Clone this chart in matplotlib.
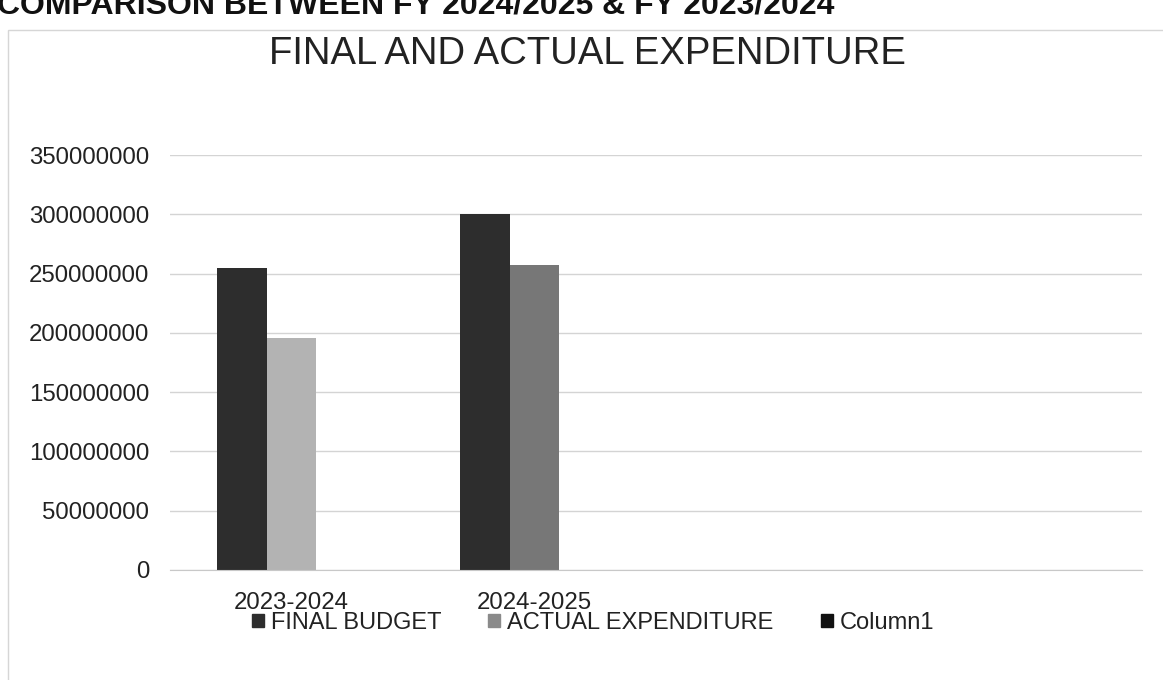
import numpy as np
import matplotlib
matplotlib.use("Agg")
import matplotlib.pyplot as plt
from matplotlib.patches import Rectangle, Patch

plt.rcParams['font.family'] = ['Liberation Sans', 'DejaVu Sans']

years = ["2023-2024", "2024-2025"]
final_budget = [255000000, 300000000]
actual_exp = [196000000, 257000000]
column1 = [0, 0]
series_names = ["FINAL BUDGET", "ACTUAL EXPENDITURE", "Column1"]

fig = plt.figure(figsize=(11.63, 6.80), dpi=100)
fig.patch.set_facecolor("white")

# thin frame of the chart object
fig.patches.append(Rectangle((8 / 1163, -0.01), 1.2, 1 - 30 / 680 + 0.01,
                             transform=fig.transFigure, fill=False,
                             edgecolor="#d6d6d6", lw=1))

# page heading, running off the top edge of the page
fig.text(-0.003, 1 - 13 / 680, "COMPARISON BETWEEN FY 2024/2025 & FY 2023/2024",
         ha="left", va="baseline", fontsize=23, fontweight="bold", color="#111111")

ax = fig.add_axes([170 / 1163, 110 / 680, 972 / 1163, 415 / 680])

x = np.arange(len(years))
w = 0.205
ax.bar(x - w, final_budget, w, color="#2d2d2d", label=series_names[0])
ax.bar(x, actual_exp, w, color=["#b3b3b3", "#777777"], label=series_names[1])
ax.bar(x + w, column1, w, color="#111111", label=series_names[2])

ax.set_xlim(-0.5, 3.5)
ax.set_ylim(0, 350000000)
ax.set_yticks(np.arange(0, 350000001, 50000000))
ax.set_yticklabels([str(v) for v in range(0, 350000001, 50000000)])
ax.set_xticks(x)
ax.set_xticklabels(years)
ax.tick_params(axis="both", length=0, labelsize=17.3, labelcolor="#222222")
ax.tick_params(axis="y", pad=15)
ax.tick_params(axis="x", pad=16)

ax.grid(axis="y", color="#d4d4d4", lw=1)
ax.set_axisbelow(True)
for s in ["top", "right", "left"]:
    ax.spines[s].set_visible(False)
ax.spines["bottom"].set_color("#c8c8c8")

fig.text(0.505, 1 - 54 / 680, "FINAL AND ACTUAL EXPENDITURE", ha="center",
         va="center", fontsize=27.5, color="#222222")

handles = [Patch(color="#2d2d2d"), Patch(color="#8a8a8a"), Patch(color="#111111")]
fig.legend(handles, series_names, loc="center", bbox_to_anchor=(0.51, 1 - 623 / 680),
           ncol=3, frameon=False, fontsize=17, handlelength=0.5, handleheight=0.5,
           handletextpad=0.3, columnspacing=2.0, labelcolor="#222222")

fig.savefig("out.png", dpi=100, facecolor="white")
